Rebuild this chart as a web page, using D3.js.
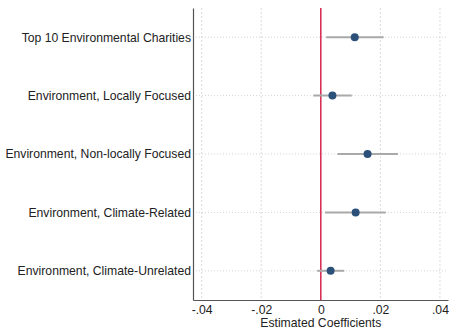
<!DOCTYPE html>
<html>
<head>
<meta charset="utf-8">
<script src="https://cdn.jsdelivr.net/npm/d3@7"></script>
<style>
  body { margin: 0; background: #fff; }
  svg { font-family: "Liberation Sans", Arial, sans-serif; }
</style>
</head>
<body>
<svg id="chart"></svg>
<script>
const width = 450;
const height = 329;
const margin = {top: 8, right: 2, bottom: 29, left: 193};
const fontSize = 12.2;

// data
const categories = [
  "Top 10 Environmental Charities",
  "Environment, Locally Focused",
  "Environment, Non-locally Focused",
  "Environment, Climate-Related",
  "Environment, Climate-Unrelated"
];
const estimates = [0.0114, 0.0039, 0.0157, 0.0117, 0.0033];
const lower = [0.0018, -0.0025, 0.0056, 0.0014, -0.0012];
const upper = [0.0211, 0.0104, 0.0259, 0.0218, 0.0079];
const xTicks = [-0.04, -0.02, 0, 0.02, 0.04];
const xTickLabels = ["-.04", "-.02", "0", ".02", ".04"];

const rows = categories.map((c, i) => ({cat: c, est: estimates[i], lo: lower[i], hi: upper[i]}));

const svg = d3.select("#chart").attr("width", width).attr("height", height);

const x = d3.scaleLinear()
    .domain([-0.0429, 0.0427])
    .range([margin.left, width - margin.right]);

const y = d3.scalePoint()
    .domain(categories)
    .range([margin.top, height - margin.bottom])
    .padding(0.5);

// grid lines
svg.append("g").selectAll("line")
    .data(xTicks)
    .join("line")
    .attr("x1", d => x(d)).attr("x2", d => x(d))
    .attr("y1", margin.top).attr("y2", height - margin.bottom)
    .attr("stroke", "#dcdcdc")
    .attr("stroke-width", 1)
    .attr("stroke-dasharray", "2,2");

svg.append("g").selectAll("line")
    .data(categories)
    .join("line")
    .attr("x1", margin.left).attr("x2", width - margin.right)
    .attr("y1", d => y(d)).attr("y2", d => y(d))
    .attr("stroke", "#d4d4d4")
    .attr("stroke-width", 1)
    .attr("stroke-dasharray", "1,2");

// zero line
svg.append("line")
    .attr("x1", x(0)).attr("x2", x(0))
    .attr("y1", margin.top).attr("y2", height - margin.bottom)
    .attr("stroke", "#d7264f")
    .attr("stroke-width", 1.5);

// axes
const xAxis = svg.append("g")
    .attr("transform", `translate(0,${height - margin.bottom})`)
    .call(d3.axisBottom(x).tickValues(xTicks).tickFormat((d, i) => xTickLabels[i]).tickSize(0).tickPadding(5));
xAxis.select(".domain").attr("stroke", "#555").attr("stroke-width", 1.2);
xAxis.selectAll("text").attr("font-size", fontSize).attr("fill", "#222");

const yAxis = svg.append("g")
    .attr("transform", `translate(${margin.left},0)`)
    .call(d3.axisLeft(y).tickSize(0).tickPadding(2));
yAxis.select(".domain").attr("stroke", "#555").attr("stroke-width", 1.2);
yAxis.selectAll("text").attr("font-size", fontSize).attr("fill", "#222");

svg.append("text")
    .attr("x", x(0))
    .attr("y", height - 2)
    .attr("text-anchor", "middle")
    .attr("font-size", fontSize)
    .attr("fill", "#222")
    .text("Estimated Coefficients");

// confidence intervals
svg.append("g").selectAll("line")
    .data(rows)
    .join("line")
    .attr("x1", d => x(d.lo)).attr("x2", d => x(d.hi))
    .attr("y1", d => y(d.cat)).attr("y2", d => y(d.cat))
    .attr("stroke", "#a9a9a9")
    .attr("stroke-width", 2);

// point estimates
svg.append("g").selectAll("circle")
    .data(rows)
    .join("circle")
    .attr("cx", d => x(d.est))
    .attr("cy", d => y(d.cat))
    .attr("r", 4)
    .attr("fill", "#2b5079");
</script>
</body>
</html>
